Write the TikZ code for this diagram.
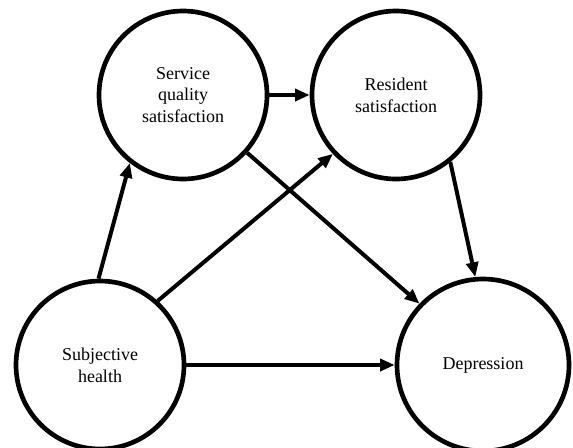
\documentclass[tikz,border=0pt]{standalone}
\usepackage{fontspec}
\setmainfont{Liberation Serif}
\usetikzlibrary{arrows.meta}

\begin{document}
\begin{tikzpicture}[x=0.75pt,y=-0.75pt,>={Triangle[length=11pt,width=9pt]},
 font=\fontsize{13.5}{16.3}\selectfont,
 cs/.style={draw,circle,line width=3.5pt,minimum size=126pt,inner sep=0pt,align=center},
 ln/.style={->,line width=3pt}]
\useasboundingbox (0,0) rectangle (573,447);
\node[cs] (sq) at (183,95) {Service\\quality\\satisfaction};
\node[cs] (rs) at (396,95) {Resident\\satisfaction};
\node[cs] (sh) at (100,365) {Subjective\\health};
\node[cs,minimum size=129pt] (dp) at (483,365) {Depression};
\draw[ln] (sq.east) -- (rs.west);
\draw[ln] (sh.91) -- (sq.232);
\draw[ln] (sh.48) -- (rs.223);
\draw[ln] (sh.east) -- (dp.west);
\draw[ln] (sq.318) -- (dp.136);
\draw[ln] (rs.309) -- (dp.95);
\end{tikzpicture}
\end{document}
